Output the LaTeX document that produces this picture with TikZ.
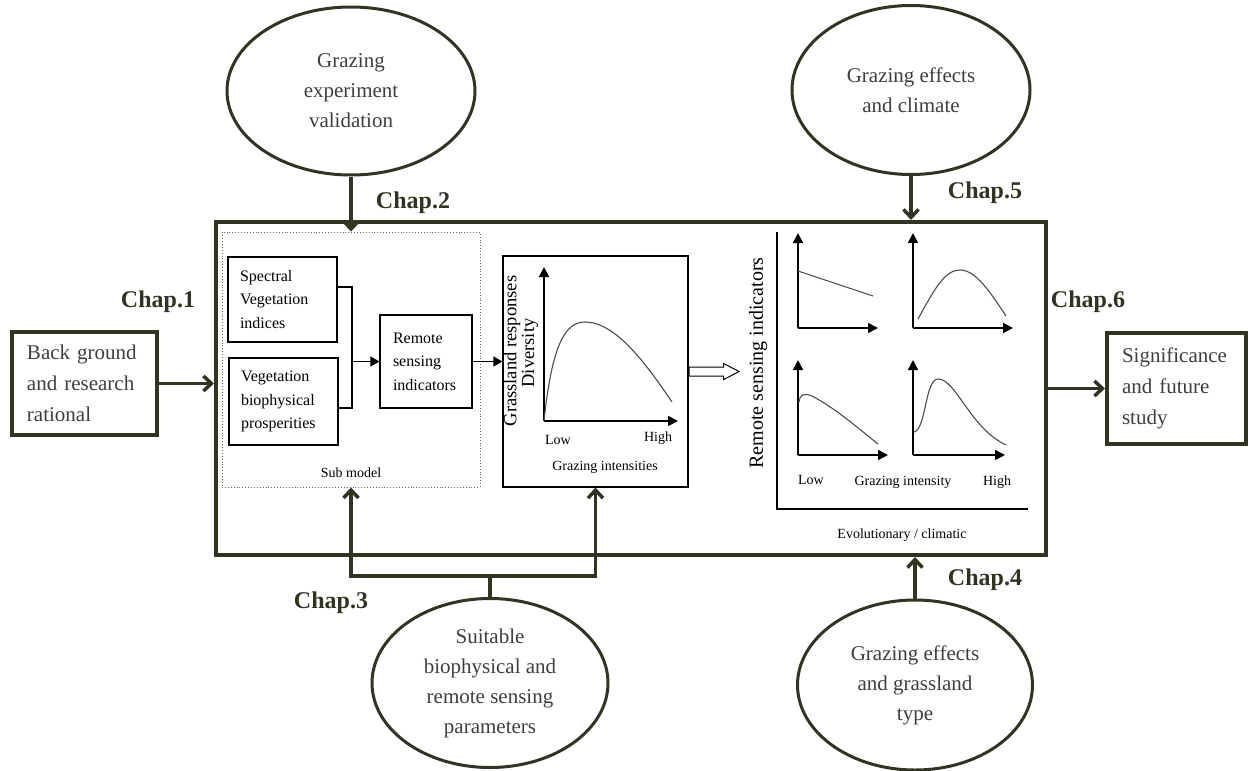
\documentclass[tikz,border=0pt]{standalone}
\usepackage{fontspec}
\setmainfont{Liberation Serif}
\usetikzlibrary{arrows.meta,shapes.geometric,shapes.arrows,positioning}

\definecolor{framecol}{RGB}{51,51,36}
\definecolor{textcol}{RGB}{62,62,58}

\tikzset{
  chapter/.style={font=\fontsize{24}{28}\selectfont\bfseries, text=framecol},
  bubble/.style={ellipse, draw=framecol, line width=3pt, align=center, inner sep=0pt,
    text=textcol, font=\fontsize{21}{30}\selectfont},
  endbox/.style={draw=framecol, line width=4pt, align=left, inner xsep=15pt, inner ysep=0pt,
    text=textcol, font=\fontsize{21}{31}\selectfont},
  thickarrow/.style={draw=framecol, line width=3.5pt, -{Straight Barb[length=8pt,width=15pt]}},
  subbox/.style={draw, line width=1.1pt, align=left, inner xsep=12pt, inner ysep=0pt,
    font=\fontsize{16}{23.5}\selectfont},
  thinarrow/.style={line width=1.1pt, -{Triangle[length=9pt,width=10pt]}},
  smalltext/.style={font=\fontsize{14}{16}\selectfont},
  axis/.style={line width=1.6pt, -{Triangle[length=10pt,width=10pt]}},
  curve/.style={line width=1.1pt, draw=black!70},
  hollow/.style={single arrow, draw, line width=1pt, inner xsep=0pt, inner ysep=4pt,
    single arrow head extend=3.5pt, single arrow tip angle=55, minimum height=50pt}
}

\begin{document}
\begin{tikzpicture}[x=1pt,y=-1pt]
\useasboundingbox (0,0) rectangle (1248,771);

% main frame
\node[draw=framecol, line width=4pt, minimum width=830, minimum height=333, inner sep=0pt] (frame) at (631,388.5) {};

% outer boxes
\node[endbox, text width=115, minimum height=103] (bg) at (84.5,383.5) {Back ground\\and research\\rational};
\node[endbox, text width=109, minimum height=111] (sig) at (1176.5,388.5) {Significance\\and future\\study};

% bubbles
\node[bubble, minimum width=248, minimum height=168] (valid) at (351,91) {Grazing\\experiment\\validation};
\node[bubble, minimum width=238, minimum height=169] (climate) at (911,90) {Grazing effects\\and climate};
\node[bubble, minimum width=236, minimum height=169] (params) at (490,683) {Suitable\\biophysical and\\remote sensing\\parameters};
\node[bubble, minimum width=235, minimum height=170] (gtype) at (915,685) {Grazing effects\\and grassland\\type};

% chapter labels
\node[chapter] (chap1) at (158,302) {Chap.1};
\node[chapter] (chap2) at (413,203) {Chap.2};
\node[chapter] (chap3) at (331,603) {Chap.3};
\node[chapter] (chap4) at (985,580) {Chap.4};
\node[chapter] (chap5) at (985,193) {Chap.5};
\node[chapter] (chap6) at (1088,302) {Chap.6};

% sub model
\node[draw=black!60, dotted, line width=0.9pt, minimum width=258, minimum height=255, inner sep=0pt] (submodel) at (351,359.5) {};
\node[smalltext, above=6pt of submodel.south] (sublabel) {Sub model};
\node[subbox, text width=85, minimum height=85] (spec) at (282.5,299.5) {Spectral\\Vegetation\\indices};
\node[subbox, text width=85, minimum height=87] (veg) at (283.5,401.5) {Vegetation\\biophysical\\prosperities};
\node[subbox, text width=66, minimum height=93, inner xsep=13pt] (remote) at (426,361.5) {Remote\\sensing\\indicators};

\coordinate (jt) at (352,287);
\coordinate (jb) at (352,408);
\draw[line width=1.1pt] (spec.east |- jt) -- (jt) -- (jb) -- (veg.east |- jb);
\draw[thinarrow] (jt |- remote.west) -- (remote.west);

% response graph
\node[draw, line width=1.1pt, minimum width=185, minimum height=231, inner sep=0pt] (graph) at (595.5,371.5) {};
\draw[thinarrow] (remote.east) -- (remote.east -| graph.west);
\coordinate (go) at (544,421);
\draw[axis] (go) -- ++(0,-154);
\draw[axis] (go) -- ++(134,0);
\draw[curve] (go) .. controls (552,345) and (565,322) .. (585,322) .. controls (615,322) and (645,362) .. (672,402);
\node[rotate=90, font=\fontsize{18.5}{20}\selectfont] (gresp) at (512,351) {Grassland responses};
\node[rotate=90, font=\fontsize{18.5}{20}\selectfont] (divers) at (530,353) {Diversity};
\node[smalltext] (glow) at (558,440) {Low};
\node[smalltext] (ghigh) at (658,438) {High};
\node[smalltext] (gint) at (605,467) {Grazing intensities};

\node[hollow, anchor=tail] (shift) at (graph.east) {};

% indicator panels
\node[rotate=90, font=\fontsize{20}{22}\selectfont] (rsi) at (758,363) {Remote sensing indicators};
\draw[line width=1.1pt] (777,232) -- (777,509) -- (1028,509);
\foreach \ox/\oy/\xl in {798/328/80, 913/328/100, 798/455/90, 913/455/92} {
  \draw[axis] (\ox,\oy) -- ++(0,-95);
  \draw[axis] (\ox,\oy) -- ++(\xl,0);
}
\draw[curve] (798,271) -- (873,296);
\draw[curve] (918,319) .. controls (935,288) and (945,270) .. (960,270) .. controls (976,270) and (990,292) .. (1006,316);
\draw[curve] (799,402) .. controls (800,394) and (804,393) .. (812,396) .. controls (835,408) and (858,428) .. (878,444);
\draw[curve] (914,432) .. controls (926,430) and (925,379) .. (938,379) .. controls (956,379) and (970,428) .. (1006,445);
\node[smalltext] (plow) at (811,480) {Low};
\node[smalltext] (pint) at (903,482) {Grazing intensity};
\node[smalltext] (phigh) at (997,482) {High};
\node[smalltext] (evo) at (902,535) {Evolutionary / climatic};

% connectors
\draw[thickarrow] (bg.east) -- (frame.west |- bg.east);
\draw[thickarrow] (frame.east |- sig.west) -- (sig.west);
\draw[thickarrow] (valid.south) -- (valid.south |- submodel.north);
\draw[thickarrow] (climate.south) -- (climate.south |- frame.north);
\draw[thickarrow] (gtype.north) -- (gtype.north |- frame.south);
\coordinate (fork) at (490,576);
\draw[draw=framecol, line width=3.5pt] (params.north) -- (fork);
\draw[thickarrow] (fork) -| (submodel.south);
\draw[thickarrow] (fork) -| (graph.south);
\end{tikzpicture}
\end{document}
